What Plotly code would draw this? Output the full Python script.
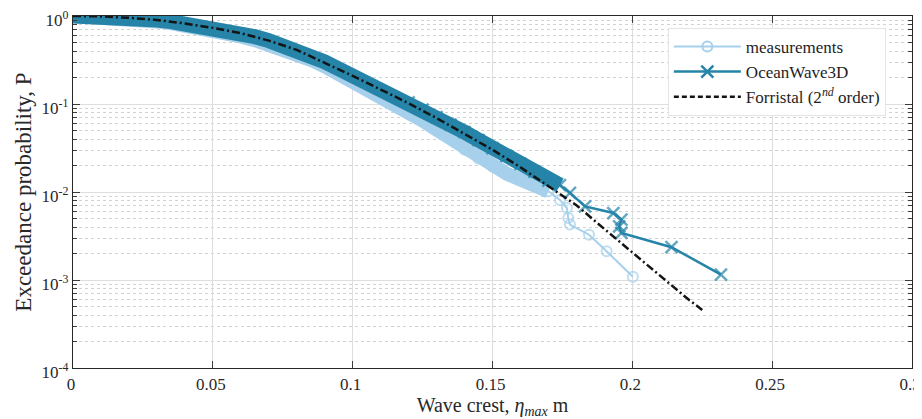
import plotly.graph_objects as go

# ---------------- data ----------------
meas_x = [0.000, 0.005, 0.010, 0.015, 0.020, 0.025, 0.030, 0.035, 0.040, 0.045,
          0.050, 0.055, 0.060, 0.065, 0.070, 0.075, 0.080, 0.085, 0.090, 0.095,
          0.100, 0.105, 0.110, 0.115, 0.120, 0.125, 0.130, 0.135, 0.140, 0.145,
          0.150, 0.155, 0.160, 0.165, 0.170, 0.1741, 0.1766, 0.1771, 0.1777,
          0.1845, 0.1908, 0.2002]
meas_p = [1.000, 0.991, 0.977, 0.955, 0.931, 0.902, 0.868, 0.829, 0.785, 0.738,
          0.687, 0.637, 0.585, 0.532, 0.479, 0.425, 0.372, 0.318, 0.267, 0.221,
          0.182, 0.151, 0.124, 0.101, 0.0813, 0.0646, 0.0513, 0.0407, 0.0302, 0.0240,
          0.0195, 0.0162, 0.0138, 0.0117, 0.0102, 0.00813, 0.00658, 0.00506, 0.00426,
          0.00327, 0.00212, 0.00109]

ow3d_x = [0.000, 0.005, 0.010, 0.015, 0.020, 0.025, 0.030, 0.035, 0.040, 0.045,
          0.050, 0.055, 0.060, 0.065, 0.070, 0.075, 0.080, 0.085, 0.090, 0.095,
          0.100, 0.105, 0.110, 0.115, 0.120, 0.125, 0.130, 0.135, 0.140, 0.145,
          0.150, 0.155, 0.160, 0.165, 0.170, 0.1741, 0.1777, 0.1831, 0.1932,
          0.1961, 0.1953, 0.1961, 0.2140, 0.2317]
ow3d_p = [1.000, 0.995, 0.989, 0.975, 0.955, 0.931, 0.902, 0.865, 0.822, 0.780,
          0.733, 0.687, 0.638, 0.582, 0.525, 0.468, 0.412, 0.355, 0.302, 0.251,
          0.211, 0.178, 0.148, 0.124, 0.104, 0.0861, 0.0708, 0.0582, 0.0479, 0.0389,
          0.0316, 0.0257, 0.0209, 0.0170, 0.0135, 0.0120, 0.00977, 0.00687, 0.00577,
          0.00484, 0.00407, 0.00343, 0.00236, 0.00115]

forr_x = [0.00, 0.01, 0.02, 0.03, 0.04, 0.05, 0.06, 0.07, 0.08, 0.09, 0.10, 0.11,
          0.12, 0.13, 0.14, 0.15, 0.16, 0.17, 0.18, 0.19, 0.20, 0.21, 0.22, 0.225]
forr_p = [1.000, 0.989, 0.955, 0.902, 0.822, 0.733, 0.638, 0.525, 0.412, 0.295,
          0.209, 0.146, 0.102, 0.0692, 0.0457, 0.0302, 0.0191, 0.0117, 0.00708,
          0.00380, 0.00204, 0.00110, 0.000603, 0.000457]

x_ticks = [0, 0.05, 0.1, 0.15, 0.2, 0.25, 0.3]
x_ticktext = ["0", "0.05", "0.1", "0.15", "0.2", "0.25", "0.3"]
y_ticks = [1e-4, 1e-3, 1e-2, 1e-1, 1]
y_ticktext = ["10<sup>-4</sup>", "10<sup>-3</sup>", "10<sup>-2</sup>",
              "10<sup>-1</sup>", "10<sup>0</sup>"]
y_minor = [m * 10.0 ** e for e in range(-4, 0) for m in range(2, 10)]

# ---------------- styles ----------------
C_MEAS = "rgb(166,208,235)"
C_OW3D = "rgb(38,132,169)"
C_FORR = "rgb(20,20,20)"
FONT = "Liberation Serif"
BAND_END = 0.172      # dense part drawn as a thick bundle
MARK_START = 0.118    # individual markers visible beyond this

meas_band = [(x, p) for x, p in zip(meas_x, meas_p) if x <= BAND_END]
ow3d_band = [(x, p) for x, p in zip(ow3d_x, ow3d_p) if x <= BAND_END + 0.003]
meas_sizes = [10 if x >= MARK_START else 0 for x in meas_x]
ow3d_sizes = [12 if x >= MARK_START else 0 for x in ow3d_x]

fig = go.Figure()

# measurements
fig.add_trace(go.Scatter(x=[b[0] for b in meas_band], y=[b[1] for b in meas_band],
                         mode="lines", line=dict(color=C_MEAS, width=14),
                         showlegend=False, hoverinfo="skip"))
fig.add_trace(go.Scatter(x=meas_x, y=meas_p, mode="lines+markers", showlegend=False,
                         line=dict(color=C_MEAS, width=2),
                         marker=dict(symbol="circle-open", size=meas_sizes, color=C_MEAS,
                                     line=dict(width=2)),
                         cliponaxis=False))
# OceanWave3D
fig.add_trace(go.Scatter(x=[b[0] for b in ow3d_band], y=[b[1] for b in ow3d_band],
                         mode="lines", line=dict(color=C_OW3D, width=15),
                         showlegend=False, hoverinfo="skip"))
fig.add_trace(go.Scatter(x=ow3d_x, y=ow3d_p, mode="lines+markers", showlegend=False,
                         line=dict(color=C_OW3D, width=2.5),
                         marker=dict(symbol="x-thin", size=ow3d_sizes, color=C_OW3D,
                                     line=dict(width=2.5, color=C_OW3D)),
                         cliponaxis=False))
# Forristal
fig.add_trace(go.Scatter(x=forr_x, y=forr_p, mode="lines", showlegend=False,
                         line=dict(color=C_FORR, width=2.5, dash="8px,3px,2px,3px")))

# legend entries
fig.add_trace(go.Scatter(x=[None], y=[None], mode="lines+markers", name="measurements",
                         line=dict(color=C_MEAS, width=2),
                         marker=dict(symbol="circle-open", size=10, color=C_MEAS,
                                     line=dict(width=2))))
fig.add_trace(go.Scatter(x=[None], y=[None], mode="lines+markers", name="OceanWave3D",
                         line=dict(color=C_OW3D, width=2.5),
                         marker=dict(symbol="x-thin", size=12, color=C_OW3D,
                                     line=dict(width=2.5, color=C_OW3D))))
fig.add_trace(go.Scatter(x=[None], y=[None], mode="lines",
                         name="Forristal (2<sup><i>nd</i></sup> order)",
                         line=dict(color=C_FORR, width=2.5, dash="5px,3px")))

fig.update_layout(
    width=914, height=411,
    margin=dict(l=65, r=10, t=8, b=51, autoexpand=False),
    paper_bgcolor="white", plot_bgcolor="white",
    font=dict(family=FONT, size=17, color="rgb(40,40,40)"),
    showlegend=True,
    legend=dict(x=0.709, y=0.966, xanchor="left", yanchor="top",
                bgcolor="white", bordercolor="rgb(228,228,228)", borderwidth=1,
                font=dict(family=FONT, size=17, color="rgb(30,30,30)"),
                itemwidth=67, tracegroupgap=0),
    xaxis=dict(range=[0, 0.3], tickmode="array", tickvals=x_ticks, ticktext=x_ticktext,
               ticks="inside", ticklen=7, tickcolor="rgb(60,60,60)",
               ticklabeloverflow="allow", automargin=False, ticklabelshift=-2,
               showline=True, linecolor="rgb(40,40,40)", linewidth=1.2, mirror="ticks",
               showgrid=True, gridcolor="rgb(222,222,222)", gridwidth=1,
               zeroline=False,
               title=dict(text="Wave crest, <i>η<sub>max</sub></i> m", standoff=4,
                          font=dict(family=FONT, size=20)),
               tickfont=dict(family=FONT, size=17)),
    yaxis=dict(type="log", range=[-4, 0], tickmode="array", tickvals=y_ticks,
               ticktext=y_ticktext, ticks="inside", ticklen=7, tickcolor="rgb(60,60,60)",
               ticklabeloverflow="allow", automargin=False, ticklabelshift=4,
               showline=True, linecolor="rgb(40,40,40)", linewidth=1.2, mirror="ticks",
               showgrid=True, gridcolor="rgb(222,222,222)", gridwidth=1,
               zeroline=False,
               minor=dict(tickmode="array", tickvals=y_minor, ticks="inside", ticklen=4,
                          tickcolor="rgb(60,60,60)", showgrid=True,
                          gridcolor="rgb(210,210,210)", griddash="dot", gridwidth=1),
               title=dict(text="Exceedance probability, P", standoff=3,
                          font=dict(family=FONT, size=23)),
               tickfont=dict(family=FONT, size=17)),
)

fig.write_html("out.html")
